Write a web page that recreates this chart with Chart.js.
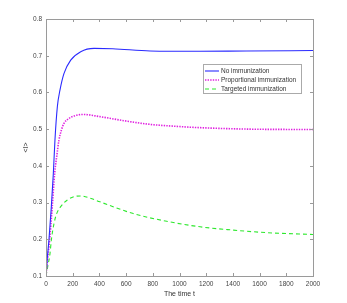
<!DOCTYPE html>
<html>
<head>
<meta charset="utf-8">
<script src="https://cdn.jsdelivr.net/npm/chart.js@4.4.0/dist/chart.umd.min.js"></script>
<style>
  html, body { margin: 0; padding: 0; background: #fff; }
  #wrap { width: 347px; height: 303px; }
</style>
</head>
<body>
<div id="wrap"><canvas id="myChart" width="347" height="303"></canvas></div>
<script>
// series (time, <I>)
const tNo = [0, 10, 22, 40, 55, 67, 85, 105, 135, 185, 260, 360, 500, 780, 1150, 1500, 2000];
const vNo = [0.1, 0.15, 0.198, 0.289, 0.38, 0.47, 0.561, 0.607, 0.652, 0.688, 0.711, 0.72, 0.719, 0.713, 0.712, 0.713, 0.714];

const tProp = [0, 10, 27, 47, 65, 80, 97, 115, 135, 172, 220, 280, 404, 600, 779, 1000, 1154, 1528, 2000];
const vProp = [0.1, 0.14, 0.198, 0.289, 0.38, 0.425, 0.47, 0.497, 0.516, 0.529, 0.537, 0.54, 0.534, 0.522, 0.513, 0.507, 0.504, 0.5, 0.499];

const tTarg = [0, 15, 30, 40, 60, 80, 110, 160, 222, 260, 330, 404, 654, 904, 1154, 1404, 1654, 2000];
const vTarg = [0.1, 0.13, 0.161, 0.198, 0.243, 0.27, 0.289, 0.307, 0.317, 0.318, 0.312, 0.302, 0.27, 0.249, 0.234, 0.225, 0.218, 0.213];

const seriesNames = ['No immunization', 'Proportional immunization', 'Targeted immunization'];

function pts(t, v) {
  return t.map((x, i) => ({ x: x, y: v[i] }));
}

const textColor = '#444';
const fontFam = "'Liberation Sans', Arial, sans-serif";

// MATLAB style box, inward ticks and legend
const matlabBox = {
  id: 'matlabBox',
  afterDatasetsDraw(chart) {
    const ctx = chart.ctx;
    const a = chart.chartArea;
    const xs = chart.scales.x, ys = chart.scales.y;
    ctx.save();
    ctx.strokeStyle = '#9a9a9a';
    ctx.lineWidth = 1;
    ctx.strokeRect(Math.round(a.left) + 0.5, Math.round(a.top) + 0.5,
                   Math.round(a.right - a.left), Math.round(a.bottom - a.top));
    ctx.beginPath();
    xs.ticks.forEach(tk => {
      const px = Math.round(xs.getPixelForValue(tk.value)) + 0.5;
      ctx.moveTo(px, a.bottom); ctx.lineTo(px, a.bottom - 3);
      ctx.moveTo(px, a.top); ctx.lineTo(px, a.top + 3);
    });
    ys.ticks.forEach(tk => {
      const py = Math.round(ys.getPixelForValue(tk.value)) + 0.5;
      ctx.moveTo(a.left, py); ctx.lineTo(a.left + 3, py);
      ctx.moveTo(a.right, py); ctx.lineTo(a.right - 3, py);
    });
    ctx.stroke();

    // legend
    const lx = 203.5, ly = 64.5, lw = 98, lh = 29;
    ctx.fillStyle = '#fff';
    ctx.fillRect(lx, ly, lw, lh);
    ctx.strokeStyle = '#aaa';
    ctx.strokeRect(lx, ly, lw, lh);
    ctx.font = '6.5px ' + fontFam;
    ctx.textBaseline = 'middle';
    chart.data.datasets.forEach((ds, i) => {
      const y = 71 + i * 9;
      ctx.strokeStyle = ds.borderColor;
      ctx.lineWidth = ds.borderWidth;
      ctx.setLineDash(ds.borderDash || []);
      ctx.beginPath();
      ctx.moveTo(205, y); ctx.lineTo(219, y);
      ctx.stroke();
      ctx.setLineDash([]);
      ctx.fillStyle = '#333';
      ctx.fillText(ds.label, 221, y);
    });
    ctx.restore();
  }
};

const config = {
  type: 'scatter',
  data: {
    datasets: [
      { label: seriesNames[0], data: pts(tNo, vNo), showLine: true, borderColor: '#2a2aff',
        borderWidth: 1.1, pointRadius: 0, cubicInterpolationMode: 'monotone' },
      { label: seriesNames[1], data: pts(tProp, vProp), showLine: true, borderColor: '#e020e0',
        borderWidth: 1.6, borderDash: [1.4, 1.2], pointRadius: 0, cubicInterpolationMode: 'monotone' },
      { label: seriesNames[2], data: pts(tTarg, vTarg), showLine: true, borderColor: '#2ee82e',
        borderWidth: 1.1, borderDash: [4, 3], pointRadius: 0, cubicInterpolationMode: 'monotone' }
    ]
  },
  options: {
    responsive: false,
    animation: false,
    layout: { padding: { left: 0, right: 34, top: 19, bottom: 0 } },
    plugins: { legend: { display: false }, tooltip: { enabled: false } },
    scales: {
      x: {
        type: 'linear', min: 0, max: 2000,
        grid: { display: false, drawTicks: false },
        border: { display: false },
        ticks: { stepSize: 200, maxRotation: 0, padding: 4, color: textColor,
                 font: { family: fontFam, size: 6.5 },
                 callback: v => String(v) },
        title: { display: true, text: 'The time t', color: '#333',
                 font: { family: fontFam, size: 7 }, padding: { top: 0, bottom: 5 } },
        afterFit(s) { s.height = 27; }
      },
      y: {
        min: 0.1, max: 0.8,
        grid: { display: false, drawTicks: false },
        border: { display: false },
        ticks: { stepSize: 0.1, padding: 4, color: textColor,
                 font: { family: fontFam, size: 6.5 },
                 callback: v => Number(v).toFixed(1) },
        title: { display: true, text: '<I>', color: '#333',
                 font: { family: fontFam, size: 7 }, padding: { top: 22, bottom: 22 } },
        afterFit(s) { s.width = 46; }
      }
    }
  },
  plugins: [matlabBox]
};

var myChart = new Chart(document.getElementById('myChart'), config);
</script>
</body>
</html>
